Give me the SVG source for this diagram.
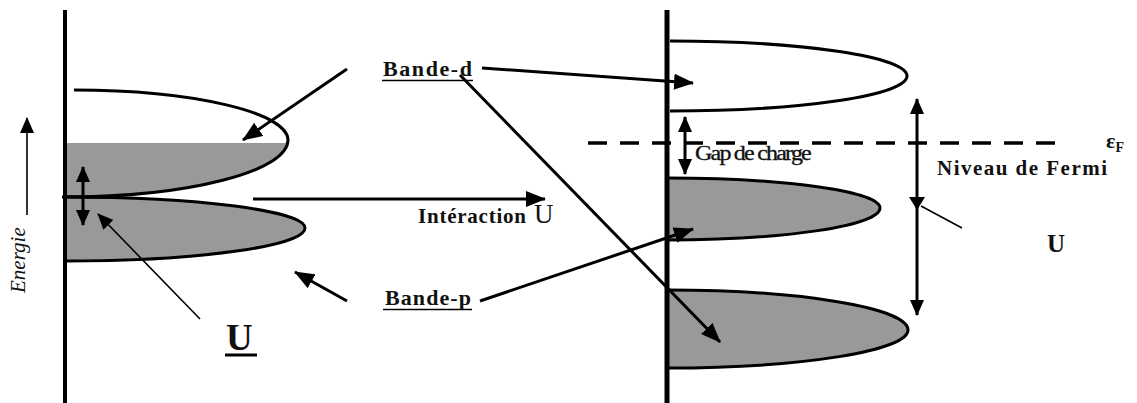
<svg xmlns="http://www.w3.org/2000/svg" width="1137" height="403" viewBox="0 0 1137 403">
<style>
.ax{stroke:#000;fill:none}
.band{stroke:#000;stroke-width:3;fill:none}
.gray{fill:#999;stroke:none}
.ln{stroke:#000;fill:none;stroke-width:3}
.thin{stroke:#000;fill:none;stroke-width:1.6}
.t{font-family:"Liberation Serif","Times New Roman",serif;fill:#111}
.b{font-weight:bold}
</style>
<defs>
<marker id="ah" markerUnits="userSpaceOnUse" markerWidth="20" markerHeight="16" refX="19" refY="8" orient="auto-start-reverse">
<path d="M0,0 L20,8 L0,16 z" fill="#000"/>
</marker>
<marker id="ahs" markerUnits="userSpaceOnUse" markerWidth="16" markerHeight="14" refX="15" refY="7" orient="auto-start-reverse">
<path d="M0,0 L16,7 L0,14 z" fill="#000"/>
</marker>
<clipPath id="below143"><rect x="60" y="143" width="260" height="60"/></clipPath>
</defs>

<g id="energie-axis">
<line class="thin" x1="27" y1="215" x2="27" y2="118" marker-end="url(#ahs)"/>
<text class="t" font-style="italic" font-size="21" fill="#2b2b45" transform="translate(25,293) rotate(-90)">Energie</text>
</g>

<g id="left-system">
<g id="left-band-d">
<path class="gray" clip-path="url(#below143)" d="M65,140 L288,140 A223,57 0 0 1 65,197 Z"/>
<path class="band" d="M74,90 A214,50 0 0 1 288,140 A223,57 0 0 1 65,197"/>
</g>
<g id="left-band-p">
<path class="gray" d="M65,197 A240,31 0 0 1 305,228 A240,33 0 0 1 65,261 Z"/>
<path class="band" d="M65,197 A240,31 0 0 1 305,228 A240,33 0 0 1 65,261"/>
<line class="band" x1="62" y1="197" x2="110" y2="197"/>
</g>
<line id="left-axis" class="ax" stroke-width="4" x1="65" y1="10" x2="65" y2="403"/>
</g>

<g id="right-system">
<g id="right-band-d">
<path class="band" d="M670,41 A237,35 0 0 1 907,76 A237,35 0 0 1 670,111"/>
</g>
<g id="right-band-mid">
<path class="gray" d="M667,178 A213,30 0 0 1 880,208 A213,32 0 0 1 667,240 Z"/>
<path class="band" d="M667,178 A213,30 0 0 1 880,208 A213,32 0 0 1 667,240"/>
</g>
<g id="right-band-low">
<path class="gray" d="M667,290 A241,40 0 0 1 908,330 A241,38 0 0 1 667,368 Z"/>
<path class="band" d="M667,290 A241,40 0 0 1 908,330 A241,38 0 0 1 667,368"/>
</g>
<line id="fermi-level" stroke="#000" stroke-width="3.5" stroke-dasharray="19 13" x1="588" y1="143" x2="1067" y2="143"/>
<line id="right-axis" class="ax" stroke-width="5" x1="667" y1="10" x2="667" y2="403"/>
</g>

<g id="connectors">
<line class="ln" stroke-width="2.5" x1="83" y1="184" x2="83" y2="167" marker-end="url(#ahs)"/>
<line class="ln" stroke-width="2.5" x1="83" y1="184" x2="83" y2="225" marker-end="url(#ahs)"/>
<line class="ln" x1="253" y1="199" x2="545" y2="199" marker-end="url(#ah)"/>
<line class="ln" stroke-width="2.6" x1="347" y1="69" x2="243" y2="140" marker-end="url(#ah)"/>
<line class="thin" x1="200" y1="319" x2="98" y2="214" marker-end="url(#ahs)"/>
<line class="ln" stroke-width="2.6" x1="482" y1="68" x2="693" y2="83" marker-end="url(#ah)"/>
<line class="ln" x1="460" y1="75" x2="720" y2="342" marker-end="url(#ah)"/>
<line class="ln" x1="347" y1="301" x2="295" y2="272" marker-end="url(#ah)"/>
<line class="ln" stroke-width="2.6" x1="480" y1="301" x2="693" y2="229" marker-end="url(#ah)"/>
<line class="ln" stroke-width="2.5" x1="685" y1="145" x2="685" y2="117" marker-end="url(#ahs)"/>
<line class="ln" stroke-width="2.5" x1="685" y1="145" x2="685" y2="174" marker-end="url(#ahs)"/>
<line class="ln" stroke-width="2.5" x1="917" y1="99" x2="917" y2="315" marker-start="url(#ahs)" marker-end="url(#ahs)"/>
<path d="M909,197 L925,197 L917,210 z" fill="#000"/>
<line class="thin" x1="962" y1="228" x2="921" y2="206"/>
</g>

<g id="labels">
<text class="t b" x="383" y="76" font-size="22" textLength="89" lengthAdjust="spacing">Bande-d</text>
<line stroke="#000" stroke-width="1.6" x1="382" y1="80.5" x2="473" y2="80.5"/>
<text class="t b" x="385" y="305" font-size="22" textLength="86" lengthAdjust="spacing">Bande-p</text>
<line stroke="#000" stroke-width="1.6" x1="383" y1="309.5" x2="472" y2="309.5"/>
<text class="t b" x="418" y="223" font-size="21" textLength="108" lengthAdjust="spacing">Intéraction</text>
<text class="t" x="534" y="223" font-size="27">U</text>
<text class="t b" x="226" y="350" font-size="37">U</text>
<line stroke="#000" stroke-width="3" x1="225" y1="355" x2="257" y2="355"/>
<text class="t" x="695" y="160" font-size="20" textLength="115" lengthAdjust="spacingAndGlyphs" letter-spacing="-1.5" stroke="#111" stroke-width="0.3">Gap de charge</text>
<text class="t b" x="937" y="175" font-size="21" textLength="170" lengthAdjust="spacing">Niveau de Fermi</text>
<text class="t b" x="1106" y="148" font-size="22">ε<tspan font-size="14" dy="4">F</tspan></text>
<text class="t b" x="1047" y="252" font-size="25">U</text>
</g>
</svg>
